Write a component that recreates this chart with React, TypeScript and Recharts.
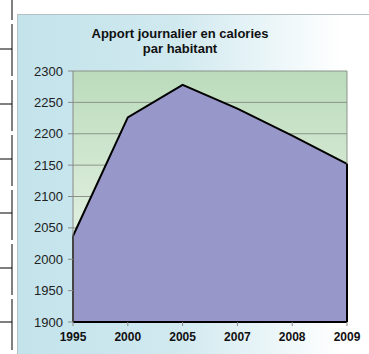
import { AreaChart, Area, XAxis, YAxis, CartesianGrid, ReferenceLine } from 'recharts'

const years = ['1995', '2000', '2005', '2007', '2008', '2009']
const calories = [2037, 2226, 2278, 2240, 2197, 2152]
const yTicks = [1900, 1950, 2000, 2050, 2100, 2150, 2200, 2250, 2300]
const titleLines = ['Apport journalier en calories', 'par habitant']

const data = years.map((year, i) => ({ year, kcal: calories[i] }))

// bordures du tableau du document, à gauche
const rowLines = [49, 104, 159, 213, 268, 322]
const gaps = [20, 76, 131, 186, 240, 295, 350]

const first = years[0]
const last = years[years.length - 1]

export default function App() {
  return (
    <div style={{ position: 'absolute', left: 0, top: 0, width: 369, height: 354, background: '#fff', overflow: 'hidden', fontFamily: 'Arial, "Liberation Sans", sans-serif' }}>
      <svg style={{ position: 'absolute', left: 0, top: 0 }} width={17} height={354}>
        {gaps.map((g, i) => (
          <line key={'v' + i} x1={12} x2={12} y1={i === 0 ? 0 : gaps[i - 1] + 4} y2={g} stroke="#000" strokeWidth={1} />
        ))}
        {rowLines.map(y => (
          <line key={'h' + y} x1={0} x2={12} y1={y} y2={y} stroke="#000" strokeWidth={1} />
        ))}
      </svg>
      <div
        style={{
          position: 'absolute', left: 17, top: 14, width: 352, height: 340,
          borderTop: '1px solid #b4c0c4', borderLeft: '1px solid #b4c0c4',
          background: 'linear-gradient(to right, #c3e3eb 0%, #d0e9ef 45%, #ffffff 92%)',
        }}
      />
      <div style={{ position: 'absolute', left: 60, top: 26, width: 240, textAlign: 'center', fontSize: 13, fontWeight: 'bold', lineHeight: '15px', color: '#111' }}>
        {titleLines.map(t => <div key={t}>{t}</div>)}
      </div>
      <div style={{ position: 'absolute', left: 0, top: 0 }}>
        <AreaChart width={369} height={354} data={data} margin={{ top: 71, right: 22, bottom: 12, left: 0 }}>
          <defs>
            <linearGradient id="plotBg" x1="0" y1="0" x2="0" y2="1">
              <stop offset="0%" stopColor="#bbdbbb" />
              <stop offset="100%" stopColor="#f6fbf4" />
            </linearGradient>
          </defs>
          <CartesianGrid vertical={false} stroke="#8a948a" fill="url(#plotBg)" fillOpacity={1} />
          <XAxis
            dataKey="year"
            height={20}
            axisLine={{ stroke: '#000', strokeWidth: 2 }}
            tickLine={{ stroke: '#888' }}
            tickSize={4}
            tickMargin={6}
            tick={{ fontSize: 12, fontWeight: 'bold', fill: '#111' }}
          />
          <YAxis
            width={73}
            domain={[1900, 2300]}
            ticks={yTicks}
            interval={0}
            axisLine={{ stroke: '#888' }}
            tickLine={{ stroke: '#888' }}
            tickSize={5}
            tickMargin={5}
            tick={{ fontSize: 13, fill: '#222' }}
          />
          <ReferenceLine x={last} stroke="#8a948a" />
          <Area
            type="linear"
            dataKey="kcal"
            baseValue={1900}
            stroke="#000"
            strokeWidth={2}
            fill="#9797c9"
            fillOpacity={1}
            dot={false}
            activeDot={false}
            isAnimationActive={false}
          />
          <ReferenceLine segment={[{ x: first, y: 1900 }, { x: first, y: calories[0] }]} stroke="#000" strokeWidth={2} />
          <ReferenceLine segment={[{ x: last, y: 1900 }, { x: last, y: calories[calories.length - 1] }]} stroke="#000" strokeWidth={2} />
        </AreaChart>
      </div>
    </div>
  )
}
